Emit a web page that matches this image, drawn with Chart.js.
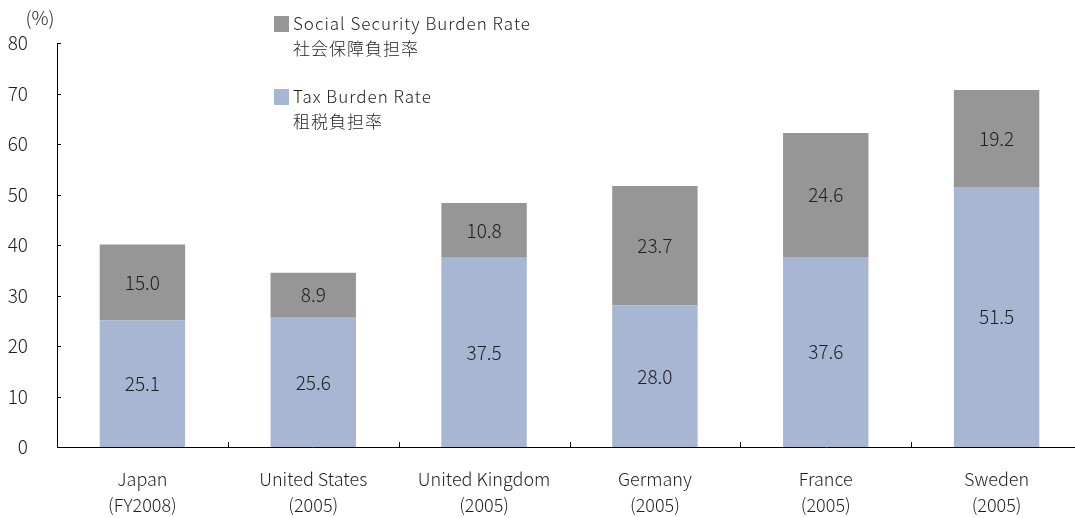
<!DOCTYPE html>
<html>
<head>
<meta charset="utf-8">
<script src="https://cdn.jsdelivr.net/npm/chart.js@4"></script>
<style>
  html, body { margin: 0; padding: 0; background: #fff; overflow: hidden; }
  #wrap { position: relative; width: 1082px; height: 518px; }
</style>
</head>
<body>
<div id="wrap"><canvas id="burdenChart"></canvas></div>
<script>
const countries = ["Japan", "United States", "United Kingdom", "Germany", "France", "Sweden"];
const periods = ["(FY2008)", "(2005)", "(2005)", "(2005)", "(2005)", "(2005)"];
const taxRate = [25.1, 25.6, 37.5, 28.0, 37.6, 51.5];
const socialRate = [15.0, 8.9, 10.8, 23.7, 24.6, 19.2];
const yTicks = [0, 10, 20, 30, 40, 50, 60, 70, 80];

const FONT = "'Noto Sans CJK JP', 'Noto Sans', sans-serif";
const TEXT = "#1e1e1e";

// ticks pointing into the plot, like the original
const axisMarks = {
  id: "axisMarks",
  afterDraw(chart) {
    const { ctx, chartArea, scales } = chart;
    ctx.save();
    ctx.strokeStyle = "#000";
    ctx.lineWidth = 1;
    ctx.beginPath();
    scales.y.ticks.forEach((t) => {
      const y = Math.round(scales.y.getPixelForValue(t.value)) + 0.5;
      ctx.moveTo(chartArea.left, y);
      ctx.lineTo(chartArea.left + 4, y);
    });
    const step = (chartArea.right - chartArea.left) / countries.length;
    for (let i = 1; i < countries.length; i++) {
      const x = Math.round(chartArea.left + step * i) + 0.5;
      ctx.moveTo(x, chartArea.bottom);
      ctx.lineTo(x, chartArea.bottom - 5);
    }
    ctx.stroke();

    // unit
    ctx.fillStyle = TEXT;
    ctx.font = "300 19px " + FONT;
    ctx.textAlign = "center";
    ctx.textBaseline = "middle";
    ctx.fillText("(%)", 40, 18);
    ctx.restore();
  },
};

// values in the middle of each segment
const segmentLabels = {
  id: "segmentLabels",
  afterDatasetsDraw(chart) {
    const { ctx } = chart;
    ctx.save();
    ctx.fillStyle = TEXT;
    ctx.font = "300 19px " + FONT;
    ctx.textAlign = "center";
    ctx.textBaseline = "middle";
    chart.data.datasets.forEach((ds, di) => {
      chart.getDatasetMeta(di).data.forEach((bar, i) => {
        const mid = (bar.y + bar.base) / 2;
        ctx.fillText(ds.data[i].toFixed(1), bar.x, mid);
      });
    });
    ctx.restore();
  },
};

// two-line legend (English + Japanese)
const sideLegend = {
  id: "sideLegend",
  afterDraw(chart) {
    const { ctx } = chart;
    const items = [
      { ds: 1, top: 16 },
      { ds: 0, top: 89 },
    ];
    ctx.save();
    ctx.textAlign = "left";
    ctx.textBaseline = "middle";
    items.forEach((it) => {
      const ds = chart.data.datasets[it.ds];
      ctx.fillStyle = ds.backgroundColor;
      ctx.fillRect(274, it.top, 15, 16);
      ctx.fillStyle = TEXT;
      ctx.font = "300 17px " + FONT;
      ctx.letterSpacing = "1px";
      ctx.fillText(ds.label[0], 293, it.top + 8);
      ctx.fillText(ds.label[1], 293, it.top + 33);
    });
    ctx.restore();
  },
};

new Chart(document.getElementById("burdenChart"), {
  type: "bar",
  data: {
    labels: countries.map((c, i) => [c, periods[i]]),
    datasets: [
      {
        label: ["Tax Burden Rate", "租税負担率"],
        data: taxRate,
        backgroundColor: "#a6b6d3",
        barPercentage: 1,
        categoryPercentage: 0.5,
      },
      {
        label: ["Social Security Burden Rate", "社会保障負担率"],
        data: socialRate,
        backgroundColor: "#969696",
        barPercentage: 1,
        categoryPercentage: 0.5,
      },
    ],
  },
  options: {
    responsive: true,
    maintainAspectRatio: false,
    animation: false,
    layout: { padding: { top: 43, left: 0, right: 0, bottom: 0 } },
    scales: {
      x: {
        stacked: true,
        grid: { display: false },
        border: { display: true, color: "#000", width: 1 },
        ticks: {
          color: TEXT,
          font: { size: 18, family: FONT, weight: 300, lineHeight: 1.4 },
          padding: 12,
          maxRotation: 0,
        },
        afterFit: (s) => { s.height = 71; },
      },
      y: {
        stacked: true,
        min: 0,
        max: 80,
        afterBuildTicks: (s) => { s.ticks = yTicks.map((v) => ({ value: v })); },
        grid: { display: false },
        border: { display: true, color: "#000", width: 1 },
        ticks: {
          color: TEXT,
          font: { size: 19, family: FONT, weight: 300 },
          padding: 21,
        },
        afterFit: (s) => { s.width = 57; },
      },
    },
    plugins: {
      legend: { display: false },
      tooltip: { enabled: false },
    },
  },
  plugins: [axisMarks, segmentLabels, sideLegend],
});
</script>
</body>
</html>
